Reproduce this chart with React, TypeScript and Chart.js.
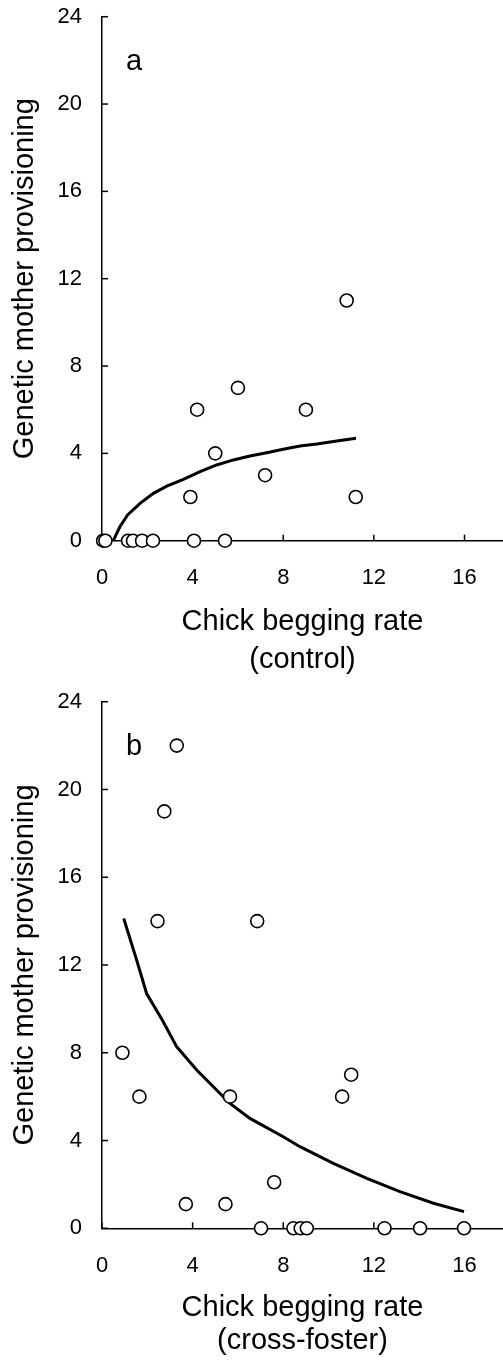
import React, { useEffect, useRef } from 'react';
import { Chart, registerables } from 'chart.js';

Chart.register(...registerables);

const FONT = "'Liberation Sans', Arial, Helvetica, sans-serif";

const xTickValues = [0, 4, 8, 12, 16];
const yTickValues = [0, 4, 8, 12, 16, 20, 24];

// Panel a (control)
const controlPointsX = [10.8, 6.0, 4.2, 9.0, 5.0, 7.2, 3.9, 11.2, 0.05, 0.15, 1.15, 1.37, 1.77, 2.25, 4.06, 5.43];
const controlPointsY = [11, 7, 6, 6, 4, 3, 2, 2, 0, 0, 0, 0, 0, 0, 0, 0];
const controlCurveX = [0.5, 0.65, 0.79, 1.13, 1.68, 2.27, 2.86, 3.59, 4.33, 5.06, 5.8, 6.53, 7.27, 8.0, 8.74, 9.48, 10.21, 11.21];
const controlCurveY = [0, 0.34, 0.64, 1.18, 1.71, 2.17, 2.5, 2.81, 3.16, 3.47, 3.7, 3.88, 4.03, 4.19, 4.34, 4.43, 4.54, 4.69];

// Panel b (cross-foster)
const fosterPointsX = [3.3, 2.75, 2.45, 6.85, 0.9, 1.65, 5.65, 10.6, 11.0, 7.6, 3.7, 5.45, 7.02, 8.45, 8.77, 9.04, 12.47, 14.04, 15.98];
const fosterPointsY = [22, 19, 14, 14, 8, 6, 6, 6, 7, 2.1, 1.1, 1.1, 0, 0, 0, 0, 0, 0, 0];
const fosterCurveX = [0.96, 1.53, 1.97, 2.66, 3.3, 4.18, 5.65, 6.53, 8.0, 8.74, 10.21, 11.69, 13.15, 14.63, 15.98];
const fosterCurveY = [14.12, 12.22, 10.7, 9.49, 8.27, 7.21, 5.69, 5.01, 4.17, 3.72, 2.96, 2.28, 1.67, 1.14, 0.76];

const W = 503;
const H = 680;

const inwardTicks = {
  id: 'inwardTicks',
  beforeDatasetsDraw(chart: any) {
    const { ctx, chartArea, scales } = chart;
    ctx.save();
    ctx.strokeStyle = '#000';
    ctx.lineWidth = 1.5;
    scales.x.ticks.forEach((t: any) => {
      const px = scales.x.getPixelForValue(t.value);
      ctx.beginPath();
      ctx.moveTo(px, chartArea.bottom);
      ctx.lineTo(px, chartArea.bottom - 6);
      ctx.stroke();
    });
    scales.y.ticks.forEach((t: any) => {
      const py = scales.y.getPixelForValue(t.value);
      ctx.beginPath();
      ctx.moveTo(chartArea.left, py);
      ctx.lineTo(chartArea.left + 6, py);
      ctx.stroke();
    });
    ctx.restore();
  },
};

const panelLabel = {
  id: 'panelLabel',
  afterDatasetsDraw(chart: any, _args: any, opts: any) {
    const { ctx, chartArea } = chart;
    ctx.save();
    ctx.fillStyle = '#000';
    ctx.font = `29px ${FONT}`;
    ctx.textAlign = 'left';
    ctx.textBaseline = 'alphabetic';
    ctx.fillText(opts.text, chartArea.left + 24, chartArea.top + 53);
    ctx.restore();
  },
};

const zeroPad = (s: any) => {
  s.paddingTop = 0;
  s.paddingBottom = 0;
  s.paddingLeft = 0;
  s.paddingRight = 0;
};

type PanelProps = {
  label: string;
  px: number[];
  py: number[];
  cx: number[];
  cy: number[];
  xTitle: string[];
  top: number;
  bottom: number;
  titlePad: number;
  titleLineHeight: number;
};

function Panel(p: PanelProps) {
  const ref = useRef<HTMLCanvasElement>(null);
  useEffect(() => {
    if (!ref.current) return;
    const points = p.px.map((x, i) => ({ x, y: p.py[i] }));
    const curve = p.cx.map((x, i) => ({ x, y: p.cy[i] }));
    const chart = new Chart(ref.current, {
      type: 'scatter',
      data: {
        datasets: [
          {
            data: points,
            order: 0,
            pointRadius: 6.5,
            pointHoverRadius: 6.5,
            pointBorderWidth: 1.6,
            pointBackgroundColor: '#fff',
            pointBorderColor: '#000',
            clip: false,
          } as any,
          {
            data: curve,
            order: 1,
            showLine: true,
            pointRadius: 0,
            pointHoverRadius: 0,
            borderColor: '#000',
            borderWidth: 3,
            tension: 0,
            clip: false,
          } as any,
        ],
      },
      options: {
        responsive: false,
        animation: false,
        devicePixelRatio: 1,
        layout: { autoPadding: false, padding: { top: p.top, right: 0, bottom: 0, left: 0 } },
        plugins: {
          legend: { display: false },
          tooltip: { enabled: false },
          panelLabel: { text: p.label },
        } as any,
        scales: {
          x: {
            type: 'linear',
            min: 0,
            max: 17.7,
            afterFit: (s: any) => {
              s.height = H - p.bottom;
              zeroPad(s);
            },
            afterBuildTicks: (s: any) => {
              s.ticks = xTickValues.map((v) => ({ value: v }));
            },
            ticks: {
              stepSize: 4,
              includeBounds: false,
              padding: 24.4,
              maxRotation: 0,
              color: '#000',
              font: { family: FONT, size: 22 },
            },
            grid: { display: false, drawTicks: false },
            border: { display: true, color: '#000', width: 1.5 },
            title: {
              display: true,
              text: p.xTitle,
              color: '#000',
              font: { family: FONT, size: 29, lineHeight: p.titleLineHeight },
              padding: { top: 0, bottom: p.titlePad },
            },
          },
          y: {
            type: 'linear',
            min: 0,
            max: 24,
            afterFit: (s: any) => {
              s.width = 102;
              zeroPad(s);
            },
            afterBuildTicks: (s: any) => {
              s.ticks = yTickValues.map((v) => ({ value: v }));
            },
            ticks: {
              stepSize: 4,
              padding: 20,
              color: '#000',
              font: { family: FONT, size: 22 },
            },
            grid: { display: false, drawTicks: false },
            border: { display: true, color: '#000', width: 1.5 },
            title: {
              display: true,
              text: 'Genetic mother provisioning',
              color: '#000',
              font: { family: FONT, size: 29, lineHeight: 1.2 },
              padding: { top: 7.6, bottom: 0 },
            },
          },
        },
      } as any,
      plugins: [inwardTicks, panelLabel],
    });
    return () => chart.destroy();
  }, []);
  return (
    <div style={{ width: W, height: H }}>
      <canvas ref={ref} width={W} height={H} style={{ display: 'block' }} />
    </div>
  );
}

export default function App() {
  return (
    <div style={{ position: 'absolute', left: 0, top: 0, width: W, height: 1360, background: '#fff' }}>
      <Panel
        label="a"
        px={controlPointsX}
        py={controlPointsY}
        cx={controlCurveX}
        cy={controlCurveY}
        xTitle={['Chick begging rate', '(control)']}
        top={16.7}
        bottom={540.7}
        titlePad={1.3}
        titleLineHeight={38 / 29}
      />
      <Panel
        label="b"
        px={fosterPointsX}
        py={fosterPointsY}
        cx={fosterCurveX}
        cy={fosterCurveY}
        xTitle={['Chick begging rate', '(cross-foster)']}
        top={21.7}
        bottom={548.3}
        titlePad={2.65}
        titleLineHeight={33 / 29}
      />
    </div>
  );
}
